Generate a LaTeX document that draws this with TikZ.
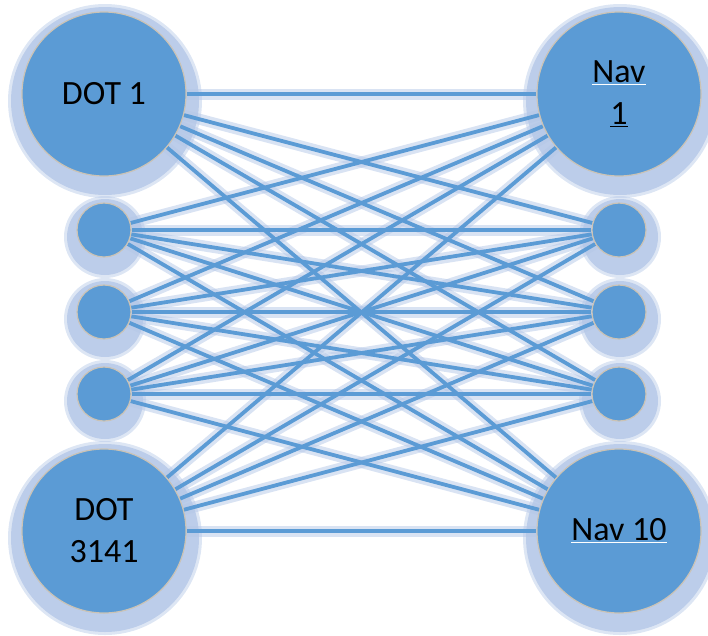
\documentclass[tikz,border=0pt]{standalone}
\usepackage{fontspec}
\setmainfont{Carlito}
\usetikzlibrary{backgrounds}

\definecolor{nodeblue}{HTML}{5B9BD5}
\definecolor{haloblue}{HTML}{B4C7E7}
\definecolor{rim}{HTML}{CBC3B5}

% underlines with a rule colour of their own
\newcommand{\ulw}[1]{{\color{white}\underline{\color{black}#1}}}
\newcommand{\ulk}[1]{{\color{black}\underline{#1}}}

\tikzset{
  bignode/.style={circle,fill=nodeblue,draw=rim,line width=1.2pt,minimum size=164pt,
    inner sep=0pt,align=center,font=\fontsize{34}{42}\selectfont},
  smallnode/.style={circle,fill=nodeblue,draw=rim,line width=1.2pt,minimum size=54pt,inner sep=0pt},
  link/.style={nodeblue,line width=3.8pt},
  linkglow/.style={haloblue,line width=11pt,opacity=0.5},
}

\begin{document}
\begin{tikzpicture}[x=1pt,y=-1pt]
\useasboundingbox (0,0) rectangle (708,635);

% corner stations
\node[bignode] (dot1) at (104,94) {DOT 1};
\node[bignode] (dot3141) at (104,531) {DOT\\3141};
\node[bignode] (nav1) at (619,94) {\ulw{Nav}\\\ulk{1}};
\node[bignode] (nav10) at (619,531) {\ulw{Nav 10}};

% the ones in between
\node[smallnode] (dotA) at (104,230) {};
\node[smallnode] (dotB) at (104,312) {};
\node[smallnode] (dotC) at (104,394) {};
\node[smallnode] (navA) at (619,230) {};
\node[smallnode] (navB) at (619,312) {};
\node[smallnode] (navC) at (619,394) {};

\begin{scope}[on background layer]
  % soft halos, fuzzy rim first
  \foreach \n/\r in {dot1/94,dot3141/94,nav1/94,nav10/94,
                     dotA/38,dotB/38,dotC/38,navA/38,navB/38,navC/38} {
    \fill[haloblue,opacity=0.45] ([xshift=1pt,yshift=-7pt]\n.center) circle (\r+3);
    \fill[haloblue,opacity=0.8] ([xshift=1pt,yshift=-7pt]\n.center) circle (\r);
  }
  % every left node to every right node
  \foreach \a in {dot1,dotA,dotB,dotC,dot3141}
    \foreach \b in {nav1,navA,navB,navC,nav10}
      \draw[linkglow] (\a) -- (\b);
  \foreach \a in {dot1,dotA,dotB,dotC,dot3141}
    \foreach \b in {nav1,navA,navB,navC,nav10}
      \draw[link] (\a) -- (\b);
\end{scope}
\end{tikzpicture}
\end{document}
